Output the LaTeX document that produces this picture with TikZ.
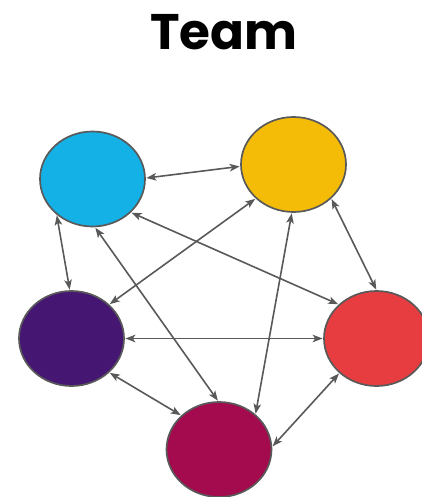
\documentclass[tikz,border=0pt]{standalone}
\usepackage{fontspec}
\setmainfont{Poppins}
\usetikzlibrary{arrows.meta,shapes.geometric}
\definecolor{edgegray}{HTML}{595959}
\definecolor{cblue}{HTML}{13B1E6}
\definecolor{cyellow}{HTML}{F4BC06}
\definecolor{cpurple}{HTML}{451773}
\definecolor{cred}{HTML}{E83D40}
\definecolor{cmagenta}{HTML}{A30B4E}
\tikzset{
  member/.style={ellipse, draw=edgegray, line width=1.7pt, minimum width=105pt,
    minimum height=95pt, inner sep=0pt},
  link/.style={draw=edgegray, line width=1.6pt,
    {Stealth[length=10pt,width=7.5pt,inset=2.5pt]}-{Stealth[length=10pt,width=7.5pt,inset=2.5pt]},
    shorten <=0.5pt, shorten >=0.5pt}
}
\begin{document}
\begin{tikzpicture}[x=1pt,y=-1pt]
  \useasboundingbox (0,0) rectangle (422,497);
  \clip (0,0) rectangle (422,497);
  \node[font=\fontsize{50}{56}\selectfont\bfseries, anchor=base] (title) at (224,50) {Team};
  \node[member, fill=cblue]    (b) at (92.5,179) {};
  \node[member, fill=cyellow]  (y) at (293.5,164.5) {};
  \node[member, fill=cpurple]  (p) at (71.5,338.5) {};
  \node[member, fill=cred]     (r) at (376.5,338.5) {};
  \node[member, fill=cmagenta] (m) at (219,449.5) {};
  \draw[link] (b.1)   -- (y.182);
  \draw[link] (b.225) -- (p.92);
  \draw[link] (b.-87) -- (m.91);
  \draw[link] (b.-41) -- (r.138);
  \draw[link] (y.222) -- (p.42);
  \draw[link] (y.268) -- (m.44);
  \draw[link] (y.318) -- (r.90);
  \draw[link] (p.0)   -- (r.180);
  \draw[link] (p.-42) -- (m.138);
  \draw[link] (r.223) -- (m.3);
\end{tikzpicture}
\end{document}
